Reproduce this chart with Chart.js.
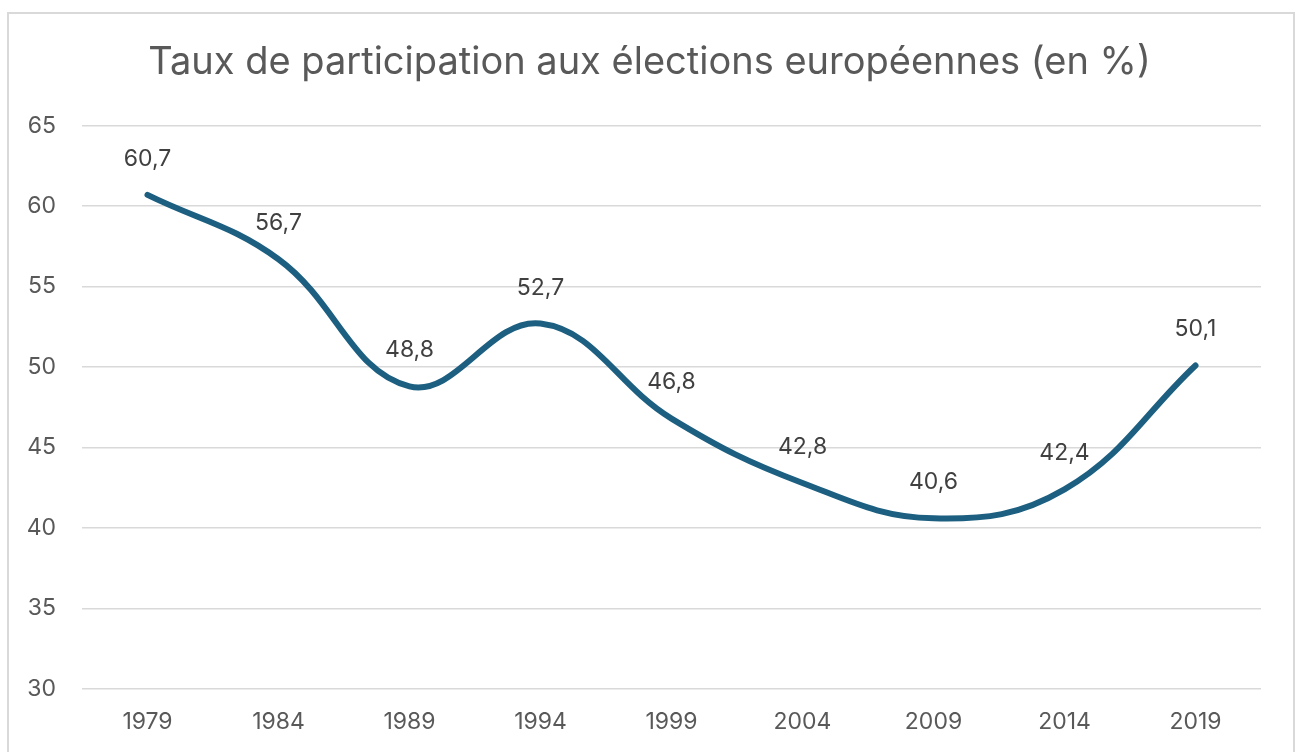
<!DOCTYPE html>
<html>
<head>
<meta charset="utf-8">
<script src="https://cdn.jsdelivr.net/npm/chart.js@4.4.1/dist/chart.umd.min.js"></script>
<style>
  html, body { margin: 0; padding: 0; background: #fff; }
  #wrap { width: 1299px; height: 752px; }
</style>
</head>
<body>
<div id="wrap"><canvas id="chart" width="1299" height="752"></canvas></div>
<script>
// données
const years = ['1979', '1984', '1989', '1994', '1999', '2004', '2009', '2014', '2019'];
const participation = [60.7, 56.7, 48.8, 52.7, 46.8, 42.8, 40.6, 42.4, 50.1];
const yTicks = [30, 35, 40, 45, 50, 55, 60, 65];

const FONT = 'Inter, "Noto Sans", sans-serif';

// cadre gris autour du graphique
const frame = {
  id: 'frame',
  beforeDraw(chart) {
    const c = chart.ctx;
    c.save();
    c.strokeStyle = '#d9d9d9';
    c.lineWidth = 2;
    c.strokeRect(8, 13, 1286, 760);
    c.restore();
  }
};

// étiquettes de valeurs au-dessus des points
const valueLabels = {
  id: 'valueLabels',
  afterDatasetsDraw(chart) {
    const c = chart.ctx;
    const meta = chart.getDatasetMeta(0);
    c.save();
    c.font = '23px ' + FONT;
    c.fillStyle = '#404040';
    c.textAlign = 'center';
    c.textBaseline = 'middle';
    meta.data.forEach((pt, i) => {
      const txt = participation[i].toFixed(1).replace('.', ',');
      c.fillText(txt, pt.x, pt.y - 36);
    });
    c.restore();
  }
};

new Chart(document.getElementById('chart'), {
  type: 'line',
  data: {
    labels: years,
    datasets: [{
      data: participation,
      borderColor: '#1c5f80',
      borderWidth: 6,
      pointRadius: 0,
      tension: 0.4,
      borderCapStyle: 'round',
      fill: false
    }]
  },
  options: {
    responsive: false,
    animation: false,
    layout: { padding: { left: 0, right: 0, top: 0, bottom: 16 } },
    plugins: {
      legend: { display: false },
      tooltip: { enabled: false },
      title: {
        display: true,
        text: 'Taux de participation aux élections européennes (en %)',
        color: '#595959',
        font: { family: FONT, size: 38, weight: 'normal' },
        padding: { top: 40, bottom: 40 }
      }
    },
    scales: {
      x: {
        offset: true,
        afterFit(scale) { scale.height = 47; },
        grid: { display: false, drawTicks: false },
        border: { display: false },
        ticks: { color: '#595959', font: { family: FONT, size: 23 }, padding: 19 }
      },
      y: {
        min: 30,
        max: 65,
        afterFit(scale) { scale.width = 82; },
        afterBuildTicks(scale) { scale.ticks = yTicks.map(v => ({ value: v })); },
        grid: { color: '#d9d9d9', lineWidth: 1.5, drawTicks: false },
        border: { display: false },
        ticks: { color: '#595959', font: { family: FONT, size: 23 }, padding: 26 }
      },
      // marge droite vide
      yRight: {
        position: 'right',
        min: 30,
        max: 65,
        afterFit(scale) { scale.width = 38; },
        grid: { display: false },
        border: { display: false },
        ticks: { display: false }
      }
    }
  },
  plugins: [frame, valueLabels]
});
</script>
</body>
</html>
